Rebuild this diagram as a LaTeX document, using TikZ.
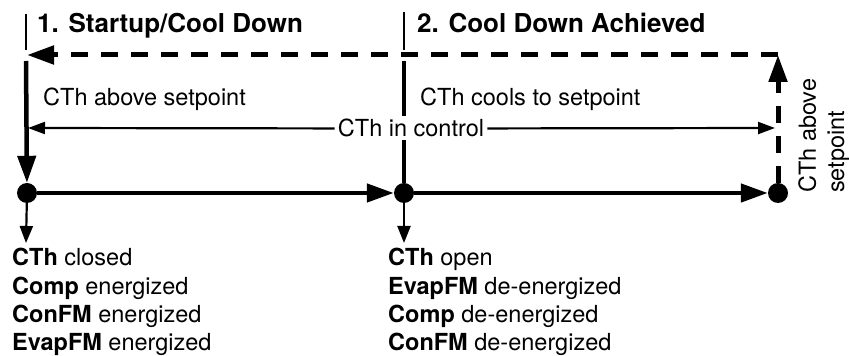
\documentclass[tikz,border=0pt]{standalone}
\usepackage{fontspec}
\setmainfont{TeX Gyre Heros}
\usetikzlibrary{arrows.meta}
\tikzset{
  statedot/.style={circle,fill=black,inner sep=0pt,minimum size=20pt},
  heavy/.style={line width=4.5pt},
  light/.style={line width=2.2pt},
  dashline/.style={line width=5pt,dash pattern=on 17pt off 13pt},
  bigtip/.style={-{Triangle[length=27pt,width=18pt]}},
  smalltip/.style={-{Triangle[length=17pt,width=13pt]}},
  txt/.style={font=\fontsize{23.5}{28.4}\selectfont,inner sep=0pt},
  headtxt/.style={font=\fontsize{26}{30}\selectfont\bfseries,inner sep=0pt},
}
\begin{document}
\begin{tikzpicture}[x=1pt,y=1pt]
    \useasboundingbox (0,0) rectangle (849,356);
    % states on the time line
    \node[statedot] (s1) at (27,163) {};
    \node[statedot] (s2) at (404,163) {};
    \node[statedot] (s3) at (778,163) {};
    \coordinate (corner) at (778,301); \coordinate (back) at (27,301);
    \coordinate (top1) at (26,295); \coordinate (top2) at (404,295);
    \coordinate (out1) at (26,113); \coordinate (out2) at (404,113);
    \coordinate (ctlL) at (28,228); \coordinate (ctlR) at (775,228);
    % headings
    \draw[line width=1.8pt] (26,306) -- (26,342);
    \draw[line width=1.8pt] (404,306) -- (404,344);
    \node[headtxt,anchor=base west] (stage1) at (37,323) {1. Startup/Cool Down};
    \node[headtxt,anchor=base west] (stage2) at (417,323) {2. Cool Down Achieved};
    % loop back
    \draw[dashline,bigtip] (s3) -- (corner);
    \draw[dashline,bigtip] (corner) -- (back);
    \draw[heavy,bigtip] (top1) -- (s1);
    \draw[heavy] (top2) -- (s2);
    \draw[heavy,bigtip] (s1) -- (s2);
    \draw[heavy,bigtip] (s2) -- (s3);
    \draw[light,smalltip] (s1) -- (out1);
    \draw[light,smalltip] (s2) -- (out2);
    % labels
    \node[txt,anchor=base west] (abovetxt) at (43,250) {CTh above setpoint};
    \node[txt,anchor=base west] (coolstxt) at (420,250) {CTh cools to setpoint};
    \node[txt,fill=white,inner sep=3pt,anchor=base] (ctl) at (411,219) {CTh in control};
    \draw[light,-{Triangle[length=17pt,width=12pt]}] (ctl.west) -- (ctlL);
    \draw[light,-{Triangle[length=17pt,width=12pt]}] (ctl.east) -- (ctlR);
    \node[txt,rotate=90,align=left,anchor=north west] (upnote) at (798,163) {CTh above\\setpoint};
    \node[txt,align=left,anchor=north west] (list1) at (12,108)
      {\textbf{CTh} closed\\\textbf{Comp} energized\\\textbf{ConFM} energized\\\textbf{EvapFM} energized};
    \node[txt,align=left,anchor=north west] (list2) at (388,108)
      {\textbf{CTh} open\\\textbf{EvapFM} de-energized\\\textbf{Comp} de-energized\\\textbf{ConFM} de-energized};
\end{tikzpicture}
\end{document}
